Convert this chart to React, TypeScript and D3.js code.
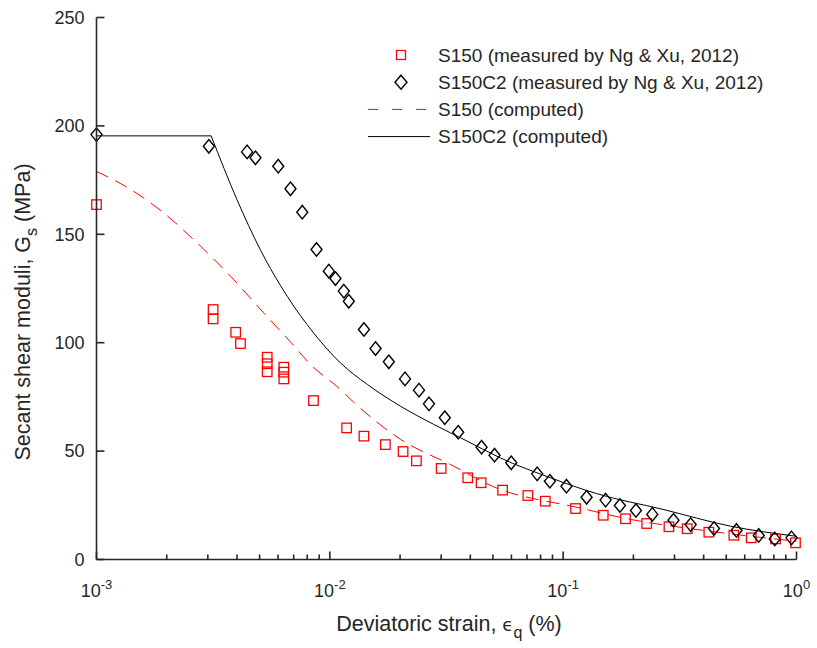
import React from "react";
import * as d3 from "d3";

const s150MeasX = [0.001, 0.00316, 0.00316, 0.00395, 0.00414, 0.00539, 0.00539, 0.00539, 0.00635, 0.00635, 0.00635, 0.00851, 0.0118, 0.014, 0.0173, 0.0206, 0.0235, 0.03, 0.039, 0.0445, 0.055, 0.0706, 0.0838, 0.113, 0.1485, 0.185, 0.228, 0.284, 0.34, 0.421, 0.539, 0.64, 0.813, 0.99];
const s150MeasY = [163.7, 115.3, 111.0, 104.8, 99.6, 93.3, 90.3, 86.6, 88.7, 86.4, 83.3, 73.3, 60.7, 56.9, 53.0, 49.8, 45.5, 42.0, 37.7, 35.4, 32.0, 29.5, 26.9, 23.5, 20.4, 18.8, 16.6, 15.1, 14.2, 12.6, 11.2, 10.0, 9.5, 7.7];

const s150c2MeasX = [0.001, 0.00303, 0.00442, 0.0048, 0.00601, 0.00678, 0.00762, 0.00877, 0.0099, 0.01057, 0.01148, 0.01206, 0.014, 0.0157, 0.0179, 0.021, 0.0241, 0.0266, 0.0311, 0.0355, 0.0447, 0.0508, 0.0599, 0.0774, 0.0877, 0.1033, 0.126, 0.152, 0.175, 0.205, 0.241, 0.297, 0.352, 0.443, 0.553, 0.689, 0.807, 0.952];
const s150c2MeasY = [196, 190.6, 188.0, 185.3, 181.4, 171, 160.2, 143, 133, 129.6, 123.8, 119.1, 106.1, 97.3, 91.2, 83.3, 78.1, 71.8, 65.4, 58.7, 51.8, 48.1, 44.6, 39.5, 36.1, 33.8, 28.7, 27.4, 24.9, 22.6, 20.8, 18.1, 16.1, 14.3, 13.4, 11.1, 9.5, 10.0];

const s150CompX = [0.001, 0.0014, 0.00194, 0.0027, 0.00375, 0.0052, 0.00724, 0.008, 0.0111, 0.0123, 0.0201, 0.0329, 0.0537, 0.0842, 0.1, 0.194, 0.375, 1.0];
const s150CompY = [179, 170.7, 159.9, 146, 130.7, 113.8, 96.9, 91.5, 78.4, 73.8, 55.4, 43.8, 32.3, 26.9, 25.4, 18.5, 13.8, 8.4];

const s150c2CompX = [0.001, 0.0031, 0.004, 0.00503, 0.00657, 0.00852, 0.0111, 0.0145, 0.0201, 0.0279, 0.0388, 0.0537, 0.0882, 0.139, 0.268, 0.52, 1.0];
const s150c2CompY = [195.4, 195.4, 166, 143, 121.4, 104.5, 90.7, 80.7, 70.7, 62.3, 54.6, 46.9, 37.7, 30.4, 23.1, 15.4, 10.7];

const yTicks = [0, 50, 100, 150, 200, 250];
const xMajorExp = [-3, -2, -1, 0];

const legendLabels = [
  "S150 (measured by Ng & Xu, 2012)",
  "S150C2 (measured by Ng & Xu, 2012)",
  "S150 (computed)",
  "S150C2 (computed)",
];

const AX = "#262626";
const RED = "#ff0000";
const FONT = "'Liberation Sans', Arial, Helvetica, sans-serif";

export default function App() {
  const W = 817, H = 648;
  const x = d3.scaleLog().domain([0.001, 1]).range([96.5, 796.5]);
  const y = d3.scaleLinear().domain([0, 250]).range([559.5, 17.5]);

  const line = d3
    .line<[number, number]>()
    .x((d) => x(d[0]))
    .y((d) => y(d[1]))
    .curve(d3.curveMonotoneX);

  const s150Comp = s150CompX.map((v, i) => [v, s150CompY[i]] as [number, number]);
  const s150c2CompFlat = s150c2CompX.slice(0, 2).map((v, i) => [v, s150c2CompY[i]] as [number, number]);
  const s150c2CompDrop = s150c2CompX.slice(1).map((v, i) => [v, s150c2CompY[i + 1]] as [number, number]);

  const minor: number[] = [];
  for (let e = -3; e < 0; e++) for (let m = 2; m <= 9; m++) minor.push(m * Math.pow(10, e));

  const sq = 9.5;
  const diamond = (cx: number, cy: number, w = 11, h = 13.5) =>
    `M${cx},${cy - h / 2}L${cx + w / 2},${cy}L${cx},${cy + h / 2}L${cx - w / 2},${cy}Z`;

  const x0 = x.range()[0], x1 = x.range()[1];
  const yb = y(0), yt = y(250);

  const legX = 368, legTextX = 438, legY0 = 55, legDy = 27.2;

  return (
    <svg width={W} height={H} style={{ display: "block", position: "absolute", left: 0, top: 0, background: "#fff" }} fontFamily={FONT}>
      <rect x={0} y={0} width={W} height={H} fill="#fff" />
      {/* computed curves */}
      <path d={line(s150Comp) || ""} fill="none" stroke={RED} strokeWidth={1} strokeDasharray="13,8" />
      <path d={line(s150c2CompFlat) || ""} fill="none" stroke="#000" strokeWidth={1} />
      <path d={line(s150c2CompDrop) || ""} fill="none" stroke="#000" strokeWidth={1} />
      {/* measured S150 */}
      {s150MeasX.map((v, i) => (
        <rect key={"s" + i} x={x(v) - sq / 2} y={y(s150MeasY[i]) - sq / 2} width={sq} height={sq} fill="none" stroke={RED} strokeWidth={1.3} />
      ))}
      {/* measured S150C2 */}
      {s150c2MeasX.map((v, i) => (
        <path key={"d" + i} d={diamond(x(v), y(s150c2MeasY[i]))} fill="none" stroke="#000" strokeWidth={1.4} />
      ))}
      {/* axes */}
      <line x1={x0} y1={yb} x2={x1} y2={yb} stroke={AX} strokeWidth={1.6} />
      <line x1={x0} y1={yb} x2={x0} y2={yt} stroke={AX} strokeWidth={1.6} />
      {yTicks.map((t) => (
        <g key={"yt" + t}>
          <line x1={x0} x2={x0 + 8} y1={y(t)} y2={y(t)} stroke={AX} strokeWidth={1.6} />
          <text x={x0 - 12} y={y(t)} dy="0.35em" textAnchor="end" fontSize={18} fill={AX}>{t}</text>
        </g>
      ))}
      {minor.map((t, i) => (
        <line key={"mn" + i} x1={x(t)} x2={x(t)} y1={yb} y2={yb - 5} stroke={AX} strokeWidth={1.6} />
      ))}
      {xMajorExp.map((e) => (
        <g key={"xt" + e}>
          <line x1={x(Math.pow(10, e))} x2={x(Math.pow(10, e))} y1={yb} y2={yb - 8} stroke={AX} strokeWidth={1.6} />
          <text x={x(Math.pow(10, e))} y={597} textAnchor="middle" fontSize={18} fill={AX}>
            10<tspan dy={-8} fontSize={13}>{e}</tspan>
          </text>
        </g>
      ))}
      {/* axis labels */}
      <text x={449} y={631} textAnchor="middle" fontSize={21.5} fill={AX}>
        Deviatoric strain, <tspan fontFamily="'DejaVu Sans', sans-serif" fontSize={18}>ϵ</tspan>
        <tspan dy={7} fontSize={16}>q</tspan>
        <tspan dy={-7}> (%)</tspan>
      </text>
      <text transform={`translate(30,312) rotate(-90)`} textAnchor="middle" fontSize={21.5} fill={AX}>
        Secant shear moduli, G<tspan dy={7} fontSize={16}>s</tspan>
        <tspan dy={-7}> (MPa)</tspan>
      </text>
      {/* legend */}
      <g fontSize={19} fill={AX}>
        <rect x={401 - 4.5} y={legY0 - 4.5} width={9} height={9} fill="none" stroke={RED} strokeWidth={1.3} />
        <path d={diamond(401, legY0 + legDy, 12, 14)} fill="none" stroke="#000" strokeWidth={1.4} />
        <line x1={legX} x2={430} y1={legY0 + 2 * legDy} y2={legY0 + 2 * legDy} stroke={RED} strokeWidth={1} strokeDasharray="10,14" />
        <line x1={legX} x2={430} y1={legY0 + 3 * legDy} y2={legY0 + 3 * legDy} stroke="#000" strokeWidth={1} />
        {legendLabels.map((l, i) => (
          <text key={l} x={legTextX} y={legY0 + i * legDy} dy="0.35em" fill={AX}>{l}</text>
        ))}
      </g>
    </svg>
  );
}
